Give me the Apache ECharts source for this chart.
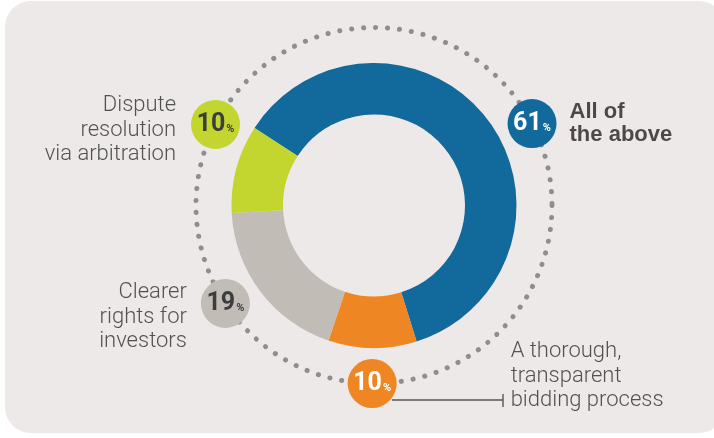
<!DOCTYPE html>
<html>
<head>
<meta charset="utf-8">
<script src="https://cdn.jsdelivr.net/npm/echarts@6/dist/echarts.min.js"></script>
<style>
  html, body { margin: 0; background: #fff; }
  #chart { width: 714px; height: 438px; }
</style>
</head>
<body>
<div id="chart"></div>
<script>
const categories = [
  'All of the above',
  'A thorough, transparent bidding process',
  'Clearer rights for investors',
  'Dispute resolution via arbitration'
]
const shares = [61, 10, 19, 10]
const nameLines = [
  'All of\nthe above',
  'A thorough,\ntransparent\nbidding process',
  'Clearer\nrights for\ninvestors',
  'Dispute\nresolution\nvia arbitration'
]

const colors = ['#12699b', '#ef8624', '#c2bcb7', '#c3d52f']
const badgeText = ['#fff', '#fff', '#3d3d3d', '#3d3d3d']
// badge spot on the dotted ring, degrees counter-clockwise from 3 o'clock
const badgeAngles = [27.4, 269.4, 213.4, 152.9]
const nameSide = ['right', 'right', 'left', 'left']
const nameDistance = [13, 114, 14, 15]
const nameOffset = [[0, 0], [0, -7], [0, 14], [0, 6]]

const CENTER = [374, 205.5]
const textFont = 'Roboto, "Liberation Sans", sans-serif'
const boldFont = '"Liberation Sans", Arial, sans-serif'

const chart = echarts.init(document.getElementById('chart'))

const option = {
  backgroundColor: '#fff',
  animation: false,
  graphic: [
    {
      type: 'rect',
      z: 0,
      silent: true,
      shape: { x: 5, y: 1, width: 720, height: 432, r: 26 },
      style: { fill: '#eee9e9' }
    },
    {
      // leader from the orange badge
      type: 'line',
      z: 1,
      silent: true,
      shape: { x1: 392, y1: 400, x2: 503, y2: 400 },
      style: { stroke: '#555', lineWidth: 1.4 }
    },
    {
      type: 'line',
      z: 1,
      silent: true,
      shape: { x1: 503, y1: 394, x2: 503, y2: 407 },
      style: { stroke: '#555', lineWidth: 1.4 }
    }
  ],
  polar: { center: CENTER, radius: 178 },
  angleAxis: {
    type: 'value',
    min: 0,
    max: 360,
    startAngle: 0,
    clockwise: false,
    axisLine: {
      show: true,
      lineStyle: { color: '#8e8e8e', width: 5, type: [0.1, 11.9], cap: 'round' }
    },
    axisTick: { show: false },
    axisLabel: { show: false },
    splitLine: { show: false },
    splitArea: { show: false }
  },
  radiusAxis: { type: 'value', min: 0, max: 1, show: false },
  series: [
    {
      name: 'Share',
      type: 'pie',
      center: CENTER,
      radius: [91, 142.5],
      startAngle: 147,
      clockwise: true,
      silent: true,
      label: { show: false },
      labelLine: { show: false },
      itemStyle: { borderWidth: 0 },
      data: categories.map((c, i) => ({ name: c, value: shares[i], itemStyle: { color: colors[i] } }))
    },
    {
      name: 'Badges',
      type: 'scatter',
      coordinateSystem: 'polar',
      symbol: 'circle',
      symbolSize: 49,
      z: 5,
      silent: true,
      data: badgeAngles.map((a, i) => ({
        value: [1, a],
        itemStyle: { color: colors[i], opacity: 1 },
        label: {
          show: true,
          position: 'inside',
          formatter: `{n|${shares[i]}}{p|%}`,
          rich: {
            n: { fontFamily: textFont, fontWeight: 'bold', fontSize: 25, color: badgeText[i], letterSpacing: -1.5 },
            p: { fontFamily: textFont, fontWeight: 'bold', fontSize: 11, color: badgeText[i], padding: [9, 0, 0, 1] }
          }
        }
      }))
    },
    {
      name: 'Names',
      type: 'scatter',
      coordinateSystem: 'polar',
      symbolSize: 49,
      itemStyle: { color: 'rgba(0,0,0,0)' },
      z: 4,
      silent: true,
      data: badgeAngles.map((a, i) => ({
        value: [1, a],
        label: {
          show: true,
          position: nameSide[i],
          distance: nameDistance[i],
          offset: nameOffset[i],
          formatter: nameLines[i],
          fontFamily: i === 0 ? boldFont : textFont,
          fontSize: i === 0 ? 22 : 22,
          lineHeight: i === 0 ? 23 : 24.5,
          fontWeight: i === 0 ? 'bold' : 300,
          color: i === 0 ? '#231f20' : '#2b2b2b'
        }
      }))
    }
  ]
}

chart.setOption(option)
</script>
</body>
</html>
